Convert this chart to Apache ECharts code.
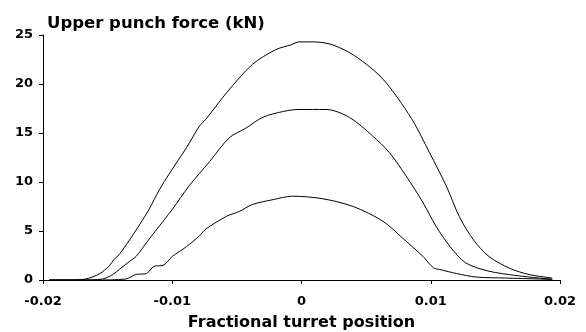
<!DOCTYPE html>
<html><head><meta charset="utf-8">
<script src="https://cdn.jsdelivr.net/npm/echarts@6/dist/echarts.min.js"></script>
<style>html,body{margin:0;padding:0;background:#fff}#c{width:586px;height:332px}</style>
</head><body><div id="c"></div>
<script>
var xTickLabels = ['-0.02','-0.01','0','0.01','0.02'];
var yTickLabels = ['0','5','10','15','20','25'];
var seriesNames = ['High','Medium','Low'];

var xHigh = [-0.0195,-0.018,-0.0167,-0.0156,-0.0149,-0.0145,-0.0141,-0.0133,-0.0125,-0.0118,-0.0110,-0.0102,-0.0089,-0.0079,-0.0074,-0.0058,-0.0038,-0.0020,-0.0008,-0.0002,0.0009,0.0024,0.0042,0.0063,0.0085,0.0099,0.0112,0.0122,0.0133,0.0145,0.0161,0.0176,0.0194];
var yHigh = [0,0,0.1,0.66,1.4,2.1,2.6,4.1,5.7,7.2,9.2,10.9,13.5,15.7,16.4,19.1,22.0,23.5,24.0,24.3,24.3,24.0,22.8,20.5,16.5,13.0,9.6,6.5,4.1,2.4,1.2,0.56,0.2];

var xMid = [-0.0195,-0.017,-0.0154,-0.0146,-0.0141,-0.0133,-0.0128,-0.0120,-0.0113,-0.0100,-0.0087,-0.0071,-0.0056,-0.0043,-0.0030,-0.0014,-0.0002,0.0019,0.0037,0.0055,0.0068,0.0081,0.0094,0.0104,0.0115,0.0127,0.0145,0.0166,0.0184,0.0194];
var yMid = [0,0,0.1,0.56,1.07,1.9,2.4,3.8,5.0,7.2,9.6,12.1,14.5,15.5,16.6,17.2,17.4,17.4,16.6,14.7,13.0,10.6,7.9,5.5,3.4,1.75,0.9,0.46,0.2,0.1];

var xLow = [-0.0195,-0.016,-0.0136,-0.0128,-0.0120,-0.0114,-0.0107,-0.0100,-0.0089,-0.0079,-0.0074,-0.0058,-0.0048,-0.0038,-0.0022,-0.0007,0.0016,0.0040,0.0063,0.0078,0.0094,0.0102,0.0107,0.0120,0.0135,0.0158,0.0184,0.0194];
var yLow = [0,0,0.1,0.56,0.66,1.4,1.5,2.4,3.4,4.5,5.2,6.5,7.0,7.7,8.2,8.55,8.3,7.5,6.0,4.3,2.4,1.25,1.07,0.66,0.3,0.2,0.1,0.05];

function pairs(xs, ys){ return xs.map(function(x,i){ return [x, ys[i]]; }); }

var font = 'DejaVu Sans, sans-serif';
var chart = echarts.init(document.getElementById('c'), null, {renderer:'canvas'});
chart.setOption({
  animation:false,
  backgroundColor:'#fff',
  title:{ text:'Upper punch force (kN)', left:42, top:10,
    textStyle:{ fontFamily:font, fontWeight:'bold', fontSize:16.5, color:'#000' } },
  grid:{ left:43, right:26, top:35, bottom:52, containLabel:false, outerBoundsMode:'none' },
  xAxis:{ type:'value', min:-0.02, max:0.02, interval:0.01,
    name:'Fractional turret position', nameLocation:'middle', nameGap:35,
    nameTextStyle:{ fontFamily:font, fontWeight:'bold', fontSize:16, color:'#000' },
    axisLine:{ show:true, onZero:false, lineStyle:{ color:'#000', width:1 } },
    axisTick:{ show:true, inside:false, length:4, lineStyle:{ color:'#000' } },
    splitLine:{ show:false },
    axisLabel:{ margin:15, fontFamily:font, fontWeight:'bold', fontSize:13, color:'#000',
      formatter:function(v){ var i = Math.round((v+0.02)/0.01); return xTickLabels[i]; } } },
  yAxis:{ type:'value', min:0, max:25, interval:5,
    axisLine:{ show:true, onZero:false, lineStyle:{ color:'#000', width:1 } },
    axisTick:{ show:true, inside:false, length:4, lineStyle:{ color:'#000' } },
    splitLine:{ show:false },
    axisLabel:{ margin:10, fontFamily:font, fontWeight:'bold', fontSize:13, color:'#000',
      formatter:function(v){ return yTickLabels[Math.round(v/5)]; } } },
  series:[
    { name:seriesNames[0], type:'line', data:pairs(xHigh,yHigh), smooth:0.3, showSymbol:false, lineStyle:{ color:'#000', width:1 } },
    { name:seriesNames[1], type:'line', data:pairs(xMid,yMid), smooth:0.3, showSymbol:false, lineStyle:{ color:'#000', width:1 } },
    { name:seriesNames[2], type:'line', data:pairs(xLow,yLow), smooth:0.3, showSymbol:false, lineStyle:{ color:'#000', width:1 } }
  ]
});
</script></body></html>
